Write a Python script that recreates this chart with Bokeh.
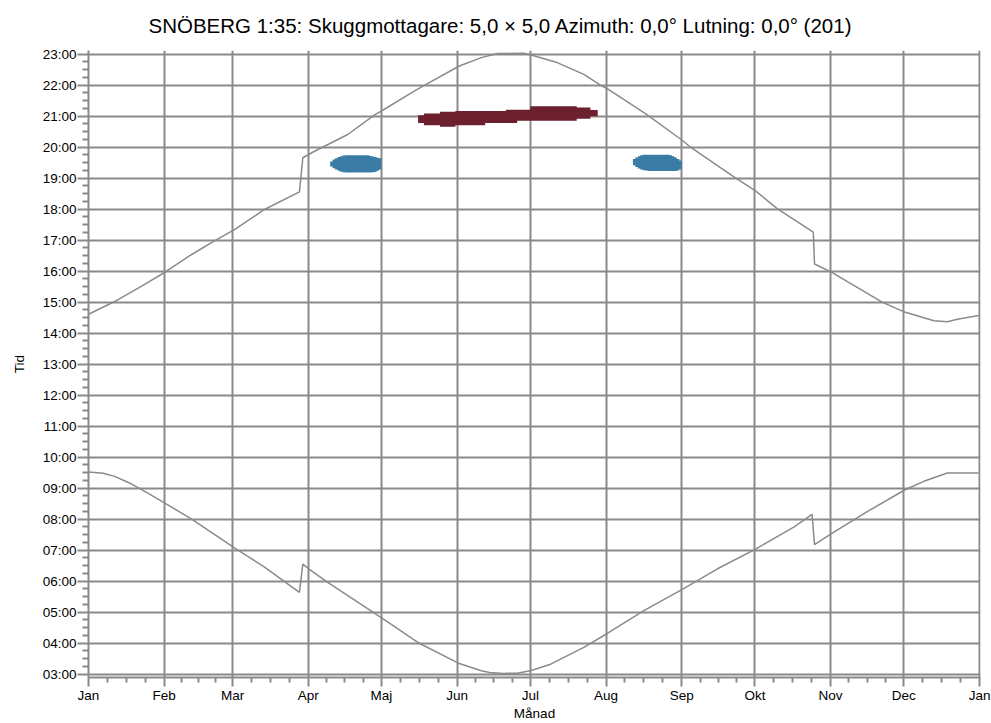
from bokeh.plotting import figure
from bokeh.models import FixedTicker, Range1d
from bokeh.embed import file_html
from bokeh.resources import INLINE

# ---------------- data ----------------
title_text = "SNÖBERG 1:35: Skuggmottagare: 5,0 × 5,0  Azimuth: 0,0°  Lutning: 0,0° (201)"
x_label = "Månad"
y_label = "Tid"

month_names = ["Jan", "Feb", "Mar", "Apr", "Maj", "Jun", "Jul", "Aug", "Sep", "Okt", "Nov", "Dec", "Jan"]
month_start_days = [0, 31, 59, 90, 120, 151, 181, 212, 243, 273, 304, 334, 365]
hour_ticks = list(range(3, 24))
hour_labels = ["%02d:00" % h for h in hour_ticks]

# sunset (upper curve), day of year -> hour
sunset_day = [0, 10.7, 21.6, 31.8, 42.1, 51.6, 59.8, 72.1, 86.4, 87.8, 92.6, 106.2, 117.2, 120.7,
              133.6, 137.0, 151.9, 160.9, 167.7, 178.3, 181.0, 192.0, 202.9, 209.7, 212.5, 228.9,
              243.6, 246.6, 265.0, 273.4, 282.1, 296.9, 297.4, 304.5, 325.1, 334.3, 346.3, 351.8,
              355.9, 364.7]
sunset_hour = [14.61, 15.02, 15.51, 15.99, 16.53, 16.98, 17.34, 17.99, 18.56, 19.66, 19.87, 20.41,
               21.04, 21.20, 21.82, 21.97, 22.62, 22.89, 23.02, 23.03, 22.98, 22.73, 22.35, 22.00,
               21.89, 21.04, 20.20, 20.00, 19.01, 18.58, 18.02, 17.26, 16.23, 15.96, 15.00, 14.68,
               14.40, 14.37, 14.45, 14.57]

# sunrise (lower curve)
sunrise_day = [0, 6.0, 10.7, 17.5, 24.3, 31.8, 42.1, 59.8, 72.1, 86.4, 87.8, 90.3, 98.0, 120.7, 134.9,
               151.9, 160.9, 164.3, 170.0, 175.6, 181.0, 189.3, 202.9, 212.5, 227.5, 243.6, 257.5,
               273.4, 288.9, 296.4, 297.4, 304.5, 319.0, 334.3, 342.2, 351.8, 364.7]
sunrise_hour = [9.52, 9.48, 9.38, 9.14, 8.84, 8.49, 8.01, 7.07, 6.45, 5.64, 6.55, 6.39, 5.96, 4.78, 4.02,
                3.34, 3.11, 3.05, 3.02, 3.03, 3.11, 3.32, 3.86, 4.31, 5.05, 5.75, 6.39, 7.04, 7.74,
                8.15, 7.18, 7.54, 8.24, 8.94, 9.22, 9.49, 9.49]

# shadow periods (blue, spring) - one entry per day
blue1_day = list(range(99, 120))
blue1_lo = [19.38, 19.32, 19.28, 19.24, 19.21, 19.19, 19.18, 19.18, 19.18, 19.18, 19.18, 19.18,
            19.18, 19.18, 19.18, 19.18, 19.18, 19.19, 19.20, 19.24, 19.28]
blue1_hi = [19.54, 19.60, 19.64, 19.68, 19.71, 19.73, 19.74, 19.74, 19.74, 19.74, 19.74, 19.74,
            19.74, 19.74, 19.74, 19.74, 19.72, 19.70, 19.68, 19.66, 19.64]

# shadow periods (blue, late summer)
blue2_day = list(range(223, 243))
blue2_lo = [19.42, 19.36, 19.31, 19.28, 19.26, 19.25, 19.23, 19.23, 19.23, 19.23, 19.23, 19.23,
            19.23, 19.23, 19.23, 19.23, 19.23, 19.23, 19.25, 19.28]
blue2_hi = [19.62, 19.67, 19.71, 19.74, 19.76, 19.76, 19.76, 19.76, 19.76, 19.76, 19.76, 19.76,
            19.76, 19.76, 19.76, 19.74, 19.71, 19.67, 19.62, 19.57]

# shadow period (dark red, summer) - segments
red_start = [135.0, 137.4, 144.0, 150.3, 162.5, 171.0, 175.6, 181.0, 200.0, 205.6]
red_end = [137.4, 144.0, 150.3, 162.5, 171.0, 175.6, 181.0, 200.0, 205.6, 208.6]
red_lo = [20.78, 20.71, 20.66, 20.71, 20.78, 20.78, 20.85, 20.85, 20.92, 21.00]
red_hi = [21.03, 21.09, 21.14, 21.17, 21.17, 21.21, 21.21, 21.32, 21.28, 21.20]

# ---------------- styling ----------------
FONT = "Liberation Sans"
GRAY = "#8a8a8a"
BLUE = "#3a7ca6"
RED = "#6c1f2d"

p = figure(width=991, height=723,
           x_range=Range1d(0, 365.4), y_range=Range1d(2.89, 23.12),
           output_backend="svg", toolbar_location=None,
           min_border_left=88, min_border_right=11, min_border_top=50, min_border_bottom=46)
p.outline_line_color = None
p.background_fill_color = "white"
p.border_fill_color = "white"

p.title.text = title_text
p.title.align = "left"
p.title.offset = 60
p.title.text_font = FONT
p.title.text_font_size = "20.5px"
p.title.text_font_style = "normal"
p.title.text_color = "black"
p.title.vertical_align = "top"
p.title.standoff = 24

# ticks
minor_x = []
for i in range(len(month_start_days) - 1):
    s, e = month_start_days[i], month_start_days[i + 1]
    minor_x += [s + (e - s) * k / 4 for k in (1, 2, 3)]
minor_y = [h + q / 4 for h in hour_ticks[:-1] for q in (1, 2, 3)]

xt = FixedTicker(ticks=month_start_days, minor_ticks=minor_x)
yt = FixedTicker(ticks=hour_ticks, minor_ticks=minor_y)
p.xaxis.ticker = xt
p.yaxis.ticker = yt
p.xgrid.ticker = xt
p.ygrid.ticker = yt
p.xaxis.major_label_overrides = {d: n for d, n in zip(month_start_days, month_names)}
p.yaxis.major_label_overrides = {h: l for h, l in zip(hour_ticks, hour_labels)}

for ax in (p.xaxis, p.yaxis):
    ax.axis_line_color = GRAY
    ax.axis_line_width = 2
    ax.major_tick_line_color = GRAY
    ax.minor_tick_line_color = GRAY
    ax.major_tick_line_width = 2
    ax.minor_tick_line_width = 2
    ax.major_tick_in = 0
    ax.minor_tick_in = 0
    ax.major_label_text_font = FONT
    ax.major_label_text_font_size = "13.5px"
    ax.major_label_text_color = "black"
    ax.axis_label_text_font = FONT
    ax.axis_label_text_font_size = "13.5px"
    ax.axis_label_text_font_style = "normal"
    ax.axis_label_text_color = "black"

p.xaxis.major_tick_out = 9
p.xaxis.minor_tick_out = 5
p.xaxis.major_label_standoff = 1
p.xaxis.axis_label = x_label
p.xaxis.axis_label_standoff = 0

p.yaxis.major_tick_out = 11
p.yaxis.minor_tick_out = 6
p.yaxis.major_label_standoff = 1
p.yaxis.axis_label = y_label
p.yaxis.axis_label_standoff = 13

p.xgrid.grid_line_color = GRAY
p.ygrid.grid_line_color = GRAY
p.xgrid.grid_line_width = 2
p.ygrid.grid_line_width = 2


def step_area(starts, ends, lows, highs):
    xs, y1, y2 = [], [], []
    for s, e, lo, hi in zip(starts, ends, lows, highs):
        xs += [s, e]
        y1 += [lo, lo]
        y2 += [hi, hi]
    return xs, y1, y2


# shadow blobs
bx, by1, by2 = step_area(blue1_day, [d + 1 for d in blue1_day], blue1_lo, blue1_hi)
p.varea(x=bx, y1=by1, y2=by2, fill_color=BLUE)
bx, by1, by2 = step_area(blue2_day, [d + 1 for d in blue2_day], blue2_lo, blue2_hi)
p.varea(x=bx, y1=by1, y2=by2, fill_color=BLUE)
rx, ry1, ry2 = step_area(red_start, red_end, red_lo, red_hi)
p.varea(x=rx, y1=ry1, y2=ry2, fill_color=RED)

# sun curves
p.line(sunset_day, sunset_hour, line_color=GRAY, line_width=1.5)
p.line(sunrise_day, sunrise_hour, line_color=GRAY, line_width=1.5)

open("out.html", "w").write(file_html(p, INLINE))
